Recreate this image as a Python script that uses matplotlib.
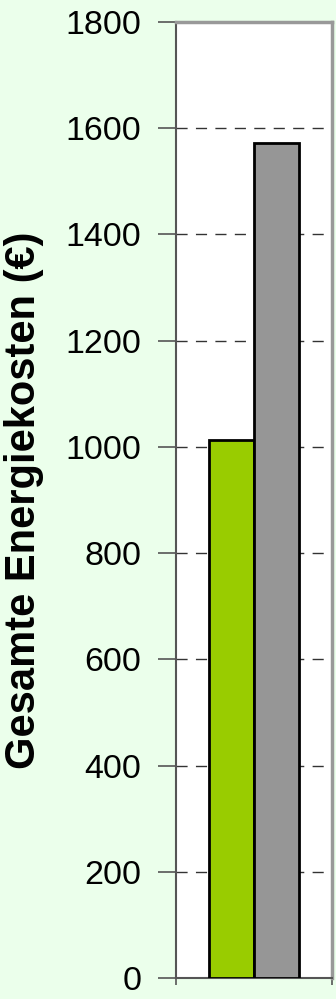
import matplotlib.pyplot as plt

# Energiekosten der beiden Varianten
serien = ['Variante A', 'Variante B']
kosten = [1013, 1572]
farben = ['#99cc00', '#969696']
y_ticks = [0, 200, 400, 600, 800, 1000, 1200, 1400, 1600, 1800]

bg = '#ebffeb'
fig = plt.figure(figsize=(3.36, 9.99), dpi=100, facecolor=bg)
ax = fig.add_axes([176/336, 21/999, 156/336, 956/999])
ax.set_facecolor('white')

breite = 0.2865
pos = [-breite/2, breite/2]
for x, wert, farbe in zip(pos, kosten, farben):
	ax.bar(x, wert, width=breite, color=farbe, edgecolor='black', linewidth=2, zorder=3)

ax.set_xlim(-0.5, 0.5)
ax.set_ylim(0, 1800)
ax.set_yticks(y_ticks)
ax.set_yticklabels([str(t) for t in y_ticks], family=['Liberation Sans', 'DejaVu Sans'], fontsize=24.5)
ax.set_xticks([-0.5, 0.5])
ax.set_xticklabels([])
ax.tick_params(axis='y', length=13, width=1.2, color='#555555', pad=12)
ax.tick_params(axis='x', direction='out', length=5, width=1.2, color='#555555')

ax.yaxis.grid(True, linestyle=(0, (8, 6)), color='#333333', linewidth=1, zorder=1)

for s in ['top', 'right']:
	ax.spines[s].set_color('#999999')
	ax.spines[s].set_linewidth(2.5)
ax.spines['left'].set_color('#555555')
ax.spines['left'].set_linewidth(1.5)
ax.spines['bottom'].set_color('#555555')
ax.spines['bottom'].set_linewidth(1.5)

ax.set_ylabel('Gesamte Energiekosten (€)', family=['Liberation Sans', 'DejaVu Sans'], fontsize=30, fontweight='bold')
ax.yaxis.set_label_coords(-132/156, 0.5)

plt.savefig('out.png', dpi=100, facecolor=bg)
